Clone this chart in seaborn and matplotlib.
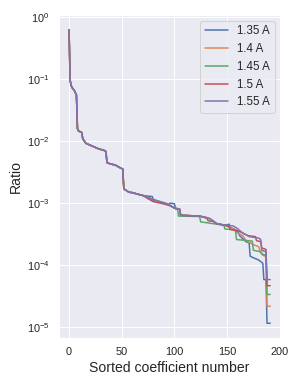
import numpy as np
import pandas as pd
import matplotlib
matplotlib.use('Agg')
import matplotlib.pyplot as plt
import seaborn as sns

# Shared head of all curves (the five currents overlap here)
trunk_idx = [0, 1, 2, 3, 5, 7, 8, 9, 12, 13, 16, 22, 28, 33, 35, 36, 39, 44, 48, 51,
             52, 57, 60, 65]
trunk_val = [0.62, 0.095, 0.078, 0.072, 0.065, 0.055, 0.0158, 0.0145, 0.0138, 0.0109,
             0.0092, 0.0083, 0.0075, 0.0071, 0.0068, 0.0045, 0.0043, 0.0041, 0.00375,
             0.00355, 0.0017, 0.0015, 0.00148, 0.0014]

# Per-current tails (index, ratio)
idx_135 = [70, 75, 79, 80, 95, 96, 100, 101, 105, 106, 124, 130, 134, 140, 148, 152, 153,
           160, 162, 168, 171, 172, 176, 180, 184, 185, 187, 188, 191]
val_135 = [1.33e-3, 1.3e-3, 1.28e-3, 1.15e-3, 9.6e-4, 1.0e-3, 9.8e-4, 8.4e-4, 8.0e-4, 6.4e-4,
           6.2e-4, 5.9e-4, 5.6e-4, 4.7e-4, 4.4e-4, 4.6e-4, 4.1e-4, 3.6e-4, 3.0e-4, 2.4e-4,
           2.3e-4, 1.4e-4, 1.3e-4, 1.22e-4, 1.08e-4, 5.9e-5, 5.9e-5, 1.17e-5, 1.17e-5]

idx_140 = [70, 75, 80, 89, 95, 101, 105, 106, 124, 130, 134, 140, 148, 158, 160, 165, 168,
           172, 175, 180, 182, 184, 187, 188, 191]
val_140 = [1.33e-3, 1.25e-3, 1.12e-3, 1.02e-3, 9.4e-4, 8.2e-4, 8.0e-4, 6.4e-4, 6.2e-4, 5.9e-4,
           5.6e-4, 4.7e-4, 4.4e-4, 3.7e-4, 3.3e-4, 3.0e-4, 2.5e-4, 2.3e-4, 2.15e-4, 2.0e-4,
           1.6e-4, 1.45e-4, 1.4e-4, 2.2e-5, 2.2e-5]

idx_145 = [70, 75, 80, 89, 95, 101, 103, 104, 124, 125, 140, 147, 148, 158, 159, 170, 174,
           175, 182, 184, 187, 188, 191]
val_145 = [1.33e-3, 1.25e-3, 1.12e-3, 1.02e-3, 9.4e-4, 8.2e-4, 8.0e-4, 6.2e-4, 6.1e-4, 5.0e-4,
           4.6e-4, 4.4e-4, 3.85e-4, 3.7e-4, 2.6e-4, 2.5e-4, 2.45e-4, 1.75e-4, 1.65e-4, 1.5e-4,
           1.45e-4, 3.4e-5, 3.4e-5]

idx_150 = [70, 75, 80, 89, 95, 101, 105, 106, 124, 131, 132, 137, 140, 148, 152, 153, 162,
           170, 177, 178, 182, 183, 187, 188, 191]
val_150 = [1.33e-3, 1.18e-3, 1.06e-3, 9.8e-4, 9.2e-4, 8.2e-4, 8.0e-4, 6.4e-4, 6.2e-4, 5.7e-4,
           5.2e-4, 5.1e-4, 4.7e-4, 4.4e-4, 4.2e-4, 3.8e-4, 3.5e-4, 3.0e-4, 2.9e-4, 2.5e-4,
           2.4e-4, 1.9e-4, 1.8e-4, 4.7e-5, 4.7e-5]

idx_155 = [70, 75, 80, 89, 95, 101, 105, 106, 124, 130, 134, 140, 148, 156, 160, 165, 168,
           171, 180, 182, 183, 187, 188, 191]
val_155 = [1.33e-3, 1.25e-3, 1.12e-3, 1.02e-3, 9.4e-4, 8.2e-4, 8.0e-4, 6.4e-4, 6.2e-4, 5.9e-4,
           5.6e-4, 4.7e-4, 4.45e-4, 4.3e-4, 3.9e-4, 3.3e-4, 3.1e-4, 2.9e-4, 2.75e-4, 2.6e-4,
           1.75e-4, 1.65e-4, 5.9e-5, 5.9e-5]

labels = ['1.35 A', '1.4 A', '1.45 A', '1.5 A', '1.55 A']
tails = [(idx_135, val_135), (idx_140, val_140), (idx_145, val_145),
         (idx_150, val_150), (idx_155, val_155)]

# Long-form table for seaborn
frames = []
for lab, (ti, tv) in zip(labels, tails):
    frames.append(pd.DataFrame({'n': trunk_idx + ti, 'ratio': trunk_val + tv, 'current': lab}))
df = pd.concat(frames, ignore_index=True)

sns.set_theme(style='darkgrid')
plt.rcParams['font.family'] = ['Liberation Sans', 'DejaVu Sans']

fig, ax = plt.subplots(figsize=(295 / 72, 384 / 72), dpi=72)
fig.subplots_adjust(left=0.2, right=0.95, top=0.961, bottom=0.12)

sns.lineplot(data=df, x='n', y='ratio', hue='current', palette='deep',
             estimator=None, sort=False, ax=ax, linewidth=1.5)
ax.set_yscale('log')
ax.set_xticks([0, 50, 100, 150, 200])
ax.tick_params(labelsize=11)
ax.set_xlabel('Sorted coefficient number', fontsize=14)
ax.set_ylabel('Ratio', fontsize=14)
ax.legend(loc='upper right', fontsize=11.5)

plt.savefig('out.png', dpi=72)
